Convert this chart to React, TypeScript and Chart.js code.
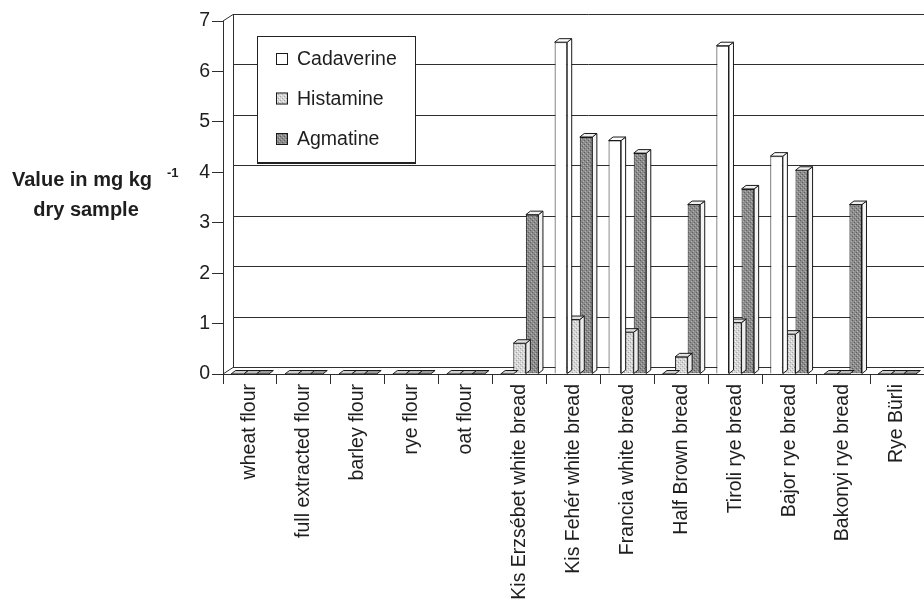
import React, { useEffect, useRef } from "react";
import { Chart, registerables } from "chart.js";

Chart.register(...registerables);

// ---- data ----
const categories = [
  "wheat flour",
  "full extracted flour",
  "barley flour",
  "rye flour",
  "oat flour",
  "Kis Erzsébet white bread",
  "Kis Fehér white bread",
  "Francia white bread",
  "Half Brown bread",
  "Tiroli rye bread",
  "Bajor rye bread",
  "Bakonyi rye bread",
  "Rye Bürli",
];
const cadaverine = [0, 0, 0, 0, 0, 0, 6.58, 4.63, 0, 6.51, 4.32, 0, 0];
const histamine = [0, 0, 0, 0, 0, 0.61, 1.08, 0.83, 0.34, 1.02, 0.79, 0, 0];
const agmatine = [0, 0, 0, 0, 0, 3.16, 4.7, 4.38, 3.36, 3.67, 4.04, 3.36, 0];
const seriesNames = ["Cadaverine", "Histamine", "Agmatine"];
const yTickValues = [0, 1, 2, 3, 4, 5, 6, 7];

const FONT = "'Liberation Sans', Arial, Helvetica, sans-serif";
const INK = "#1e1e1e";
const LINE = "#2e2e2e";

// depth of the back wall and of each column (pseudo 3-D projection)
const WALL_DX = 10;
const WALL_DY = -7;
const BAR_DX = 4.5;
const BAR_DY = -3.5;

function stipple(base: string, dark: string, light: string): CanvasPattern | string {
  const c = document.createElement("canvas");
  c.width = 4;
  c.height = 4;
  const g = c.getContext("2d");
  if (!g) return base;
  g.fillStyle = base;
  g.fillRect(0, 0, 4, 4);
  g.fillStyle = dark;
  g.fillRect(0, 0, 1, 1);
  g.fillRect(2, 2, 1, 1);
  g.fillStyle = light;
  g.fillRect(1, 3, 1, 1);
  g.fillRect(3, 1, 1, 1);
  return g.createPattern(c, "repeat") || base;
}

export default function App() {
  const canvasRef = useRef<HTMLCanvasElement | null>(null);

  useEffect(() => {
    const canvas = canvasRef.current;
    if (!canvas) return;

    const fronts = [
      "#ffffff",
      stipple("#d6d6d6", "#a6a6a6", "#f2f2f2"),
      stipple("#8c8c8c", "#5f5f5f", "#b3b3b3"),
    ];
    const sides = ["#ffffff", "#ececec", "#f4f4f4"];
    const tops = ["#ffffff", "#e2e2e2", "#f0f0f0"];
    const flatTops = ["#d0d0d0", "#bdbdbd", "#9a9a9a"];

    const depthPlugin = {
      id: "depth",
      beforeDatasetsDraw(chart: any) {
        const { ctx, chartArea: a, scales } = chart;
        const y = scales.y;
        const bx = a.left + WALL_DX;
        ctx.save();
        ctx.strokeStyle = LINE;
        ctx.lineWidth = 1;
        ctx.beginPath();
        for (const v of yTickValues) {
          const py = Math.round(y.getPixelForValue(v) + WALL_DY) + 0.5;
          ctx.moveTo(bx, py);
          ctx.lineTo(chart.width, py);
        }
        const topY = Math.round(y.getPixelForValue(7) + WALL_DY) + 0.5;
        const botY = Math.round(y.getPixelForValue(0) + WALL_DY) + 0.5;
        ctx.moveTo(Math.round(bx) + 0.5, topY);
        ctx.lineTo(Math.round(bx) + 0.5, botY);
        ctx.moveTo(a.left, y.getPixelForValue(7));
        ctx.lineTo(bx, topY);
        ctx.moveTo(a.left, y.getPixelForValue(0));
        ctx.lineTo(bx, botY);
        ctx.stroke();
        ctx.restore();
      },
      afterDatasetDraw(chart: any, args: any) {
        const { ctx } = chart;
        const i = args.index;
        ctx.save();
        ctx.strokeStyle = "#1a1a1a";
        ctx.lineWidth = 1;
        ctx.lineJoin = "round";
        for (const el of args.meta.data) {
          const p = el.getProps(["x", "y", "width", "base"], true);
          const l = p.x - p.width / 2;
          const r = p.x + p.width / 2;
          const t = Math.min(p.y, p.base);
          const b = p.base;
          const tall = b - t > 0.5;
          if (tall) {
            ctx.beginPath();
            ctx.moveTo(r, t);
            ctx.lineTo(r + BAR_DX, t + BAR_DY);
            ctx.lineTo(r + BAR_DX, b + BAR_DY);
            ctx.lineTo(r, b);
            ctx.closePath();
            ctx.fillStyle = sides[i];
            ctx.fill();
            ctx.stroke();
          }
          ctx.beginPath();
          ctx.moveTo(l, t);
          ctx.lineTo(r, t);
          ctx.lineTo(r + BAR_DX, t + BAR_DY);
          ctx.lineTo(l + BAR_DX, t + BAR_DY);
          ctx.closePath();
          ctx.fillStyle = tall ? tops[i] : flatTops[i];
          ctx.fill();
          ctx.stroke();
        }
        ctx.restore();
      },
      afterDraw(chart: any) {
        const { ctx } = chart;
        ctx.save();

        // axis title with superscript unit
        ctx.fillStyle = INK;
        ctx.textBaseline = "alphabetic";
        ctx.textAlign = "left";
        ctx.font = `bold 20px ${FONT}`;
        ctx.fillText("Value in mg kg", 12, 186);
        ctx.font = `bold 13px ${FONT}`;
        ctx.fillText("-1", 167, 177);
        ctx.font = `bold 20px ${FONT}`;
        ctx.textAlign = "center";
        ctx.fillText("dry sample", 86, 216);

        // legend box inside the plot
        const lx = 257;
        const ly = 36;
        const lw = 158;
        const lh = 126;
        ctx.fillStyle = "#ffffff";
        ctx.fillRect(lx, ly, lw, lh);
        ctx.strokeStyle = "#222";
        ctx.lineWidth = 1;
        ctx.strokeRect(lx + 0.5, ly + 0.5, lw, lh);
        ctx.lineWidth = 2;
        ctx.beginPath();
        ctx.moveTo(lx, ly + lh + 1);
        ctx.lineTo(lx + lw + 1, ly + lh + 1);
        ctx.stroke();
        ctx.font = `19.5px ${FONT}`;
        ctx.textAlign = "left";
        ctx.textBaseline = "middle";
        const rows = [59, 98.5, 139];
        seriesNames.forEach((name, k) => {
          const cy = rows[k];
          ctx.fillStyle = fronts[k];
          ctx.fillRect(276, cy - 6, 12, 12);
          ctx.lineWidth = 1;
          ctx.strokeStyle = "#1a1a1a";
          ctx.strokeRect(276.5, cy - 5.5, 11, 11);
          ctx.fillStyle = INK;
          ctx.fillText(name, 297, cy + 1);
        });
        ctx.restore();
      },
    };

    const chart = new Chart(canvas, {
      type: "bar",
      data: {
        labels: categories,
        datasets: [cadaverine, histamine, agmatine].map((values, k) => ({
          label: seriesNames[k],
          data: values,
          backgroundColor: fronts[k] as any,
          borderColor: "#1a1a1a",
          borderWidth: 1,
          categoryPercentage: 0.7,
          barPercentage: 1,
        })),
      },
      options: {
        responsive: false,
        animation: false,
        events: [],
        layout: { padding: { left: 0, top: 21, right: 20, bottom: 0 } },
        plugins: {
          legend: { display: false },
          tooltip: { enabled: false },
          title: { display: false },
        },
        scales: {
          x: {
            offset: true,
            grid: {
              offset: true,
              drawOnChartArea: false,
              drawTicks: true,
              tickLength: 10,
              color: LINE,
            },
            border: { display: true, color: LINE, width: 1 },
            ticks: {
              autoSkip: false,
              minRotation: 90,
              maxRotation: 90,
              padding: 0,
              color: INK,
              font: { family: FONT, size: 19.5 },
            },
            afterFit(scale: any) {
              scale.height = 605 - 374;
            },
          },
          y: {
            min: 0,
            max: 7,
            grid: {
              drawOnChartArea: false,
              drawTicks: true,
              tickLength: 11,
              color: LINE,
            },
            border: { display: true, color: LINE, width: 1 },
            ticks: {
              stepSize: 1,
              padding: 2,
              color: INK,
              font: { family: FONT, size: 19.5 },
            },
            afterFit(scale: any) {
              scale.width = 223;
            },
          },
        },
      },
      plugins: [depthPlugin],
    });

    return () => chart.destroy();
  }, []);

  return (
    <div
      style={{
        position: "fixed",
        left: 0,
        top: 0,
        width: 924,
        height: 605,
        overflow: "hidden",
        background: "#ffffff",
      }}
    >
      <canvas ref={canvasRef} width={944} height={605} style={{ display: "block" }} />
    </div>
  );
}
